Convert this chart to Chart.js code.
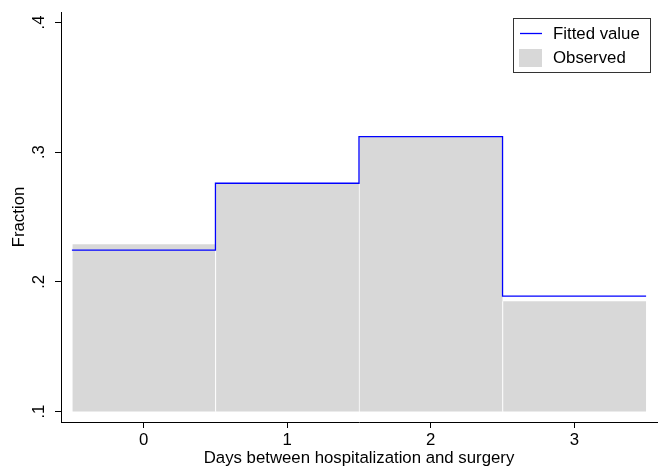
<!DOCTYPE html>
<html>
<head>
<meta charset="utf-8">
<script src="https://cdn.jsdelivr.net/npm/chart.js@4/dist/chart.umd.min.js"></script>
<style>
    html, body { margin: 0; padding: 0; background: #fff; }
    #wrap { width: 660px; height: 473px; position: relative; }
</style>
</head>
<body>
<div id="wrap"><canvas id="chart"></canvas></div>
<script>
const days = [0, 1, 2, 3];
const observed = [0.229, 0.276, 0.312, 0.185];
const fitted = [0.2245, 0.276, 0.312, 0.189];
const yTicks = [0.1, 0.2, 0.3, 0.4];
const barBase = 0.1;

const FONT = "'Liberation Sans', Arial, sans-serif";
const blue = '#0000ff';
const gray = '#d8d8d8';

const fmtFraction = (v) => String(Math.round(v * 10) / 10).replace(/^0/, '');

// step outline: one point at the left edge of every bar, plus the closing right edge
const stepPoints = days.map((d, i) => ({ x: d - 0.5, y: fitted[i] }));
stepPoints.push({ x: days[days.length - 1] + 0.5, y: fitted[fitted.length - 1] });

// stata style: y labels turned to read upwards, centred on their tick
const uprightTicks = {
    id: 'uprightTicks',
    afterDraw(chart) {
        const { ctx } = chart;
        const scale = chart.scales.y;
        ctx.save();
        ctx.font = `16.8px ${FONT}`;
        ctx.fillStyle = '#000';
        ctx.textAlign = 'center';
        ctx.textBaseline = 'middle';
        scale.ticks.forEach((t) => {
            const y = scale.getPixelForValue(t.value);
            ctx.save();
            ctx.translate(scale.right - 22, y);
            ctx.rotate(-Math.PI / 2);
            ctx.fillText(fmtFraction(t.value), 0, 0);
            ctx.restore();
        });
        ctx.restore();
    },
};

const boxLegend = {
    id: 'boxLegend',
    afterDatasetsDraw(chart) {
        const { ctx, chartArea } = chart;
        const sets = chart.data.datasets;
        const right = chartArea.right - 6;
        const left = right - 138;
        const top = chartArea.top + 6;

        ctx.save();
        ctx.fillStyle = '#fff';
        ctx.fillRect(left, top, 138, 55);
        ctx.strokeStyle = '#333';
        ctx.lineWidth = 1;
        ctx.strokeRect(left + 0.5, top + 0.5, 137, 54);

        ctx.font = `16.8px ${FONT}`;
        ctx.textBaseline = 'middle';
        ctx.textAlign = 'left';

        // line sample
        ctx.strokeStyle = sets[0].borderColor;
        ctx.lineWidth = 1.3;
        ctx.beginPath();
        ctx.moveTo(left + 7, top + 15.5);
        ctx.lineTo(left + 29, top + 15.5);
        ctx.stroke();
        ctx.fillStyle = '#000';
        ctx.fillText(sets[0].label, left + 40, top + 16);

        // area sample
        ctx.fillStyle = sets[1].backgroundColor;
        ctx.fillRect(left + 6, top + 31, 23, 18);
        ctx.fillStyle = '#000';
        ctx.fillText(sets[1].label, left + 40, top + 40);
        ctx.restore();
    },
};

new Chart(document.getElementById('chart'), {
    data: {
        datasets: [
            {
                type: 'line',
                label: 'Fitted value',
                data: stepPoints,
                stepped: 'before',
                borderColor: blue,
                borderWidth: 1.3,
                pointRadius: 0,
                fill: false,
                order: 0,
            },
            {
                type: 'bar',
                label: 'Observed',
                data: days.map((d, i) => ({ x: d, y: [barBase, observed[i]] })),
                backgroundColor: gray,
                borderColor: '#ffffff',
                borderWidth: { left: 1, right: 0, top: 0, bottom: 0 },
                borderSkipped: false,
                barPercentage: 1,
                categoryPercentage: 1,
                grouped: false,
                order: 1,
            },
        ],
    },
    options: {
        responsive: true,
        maintainAspectRatio: false,
        animation: false,
        layout: { padding: { top: 12, right: 3, left: 0, bottom: 0 } },
        plugins: {
            legend: { display: false },
            tooltip: { enabled: false },
        },
        scales: {
            x: {
                type: 'linear',
                min: -0.576,
                max: 3.576,
                offset: false,
                afterBuildTicks: (scale) => {
                    scale.ticks = days.map((v) => ({ value: v }));
                },
                afterFit: (scale) => {
                    scale.height = 51;
                },
                ticks: {
                    color: '#000',
                    font: { family: FONT, size: 16.8 },
                    padding: 2,
                    maxRotation: 0,
                    callback: (v) => String(v),
                },
                grid: {
                    offset: false,
                    drawOnChartArea: false,
                    drawTicks: true,
                    tickLength: 6,
                    color: '#000',
                },
                border: { display: true, color: '#000', width: 1 },
                title: {
                    display: true,
                    text: 'Days between hospitalization and surgery',
                    color: '#000',
                    font: { family: FONT, size: 16.8 },
                    padding: { top: 0, bottom: 5 },
                },
            },
            y: {
                type: 'linear',
                min: 0.092,
                max: 0.408,
                afterBuildTicks: (scale) => {
                    scale.ticks = yTicks.map((v) => ({ value: v }));
                },
                afterFit: (scale) => {
                    scale.width = 61;
                },
                ticks: {
                    display: false,
                },
                grid: {
                    offset: false,
                    drawOnChartArea: false,
                    drawTicks: true,
                    tickLength: 6,
                    color: '#000',
                },
                border: { display: true, color: '#000', width: 1 },
                title: {
                    display: true,
                    text: 'Fraction',
                    color: '#000',
                    font: { family: FONT, size: 16.8 },
                    padding: { top: 9, bottom: 0 },
                },
            },
        },
    },
    plugins: [boxLegend, uprightTicks],
});
</script>
</body>
</html>
